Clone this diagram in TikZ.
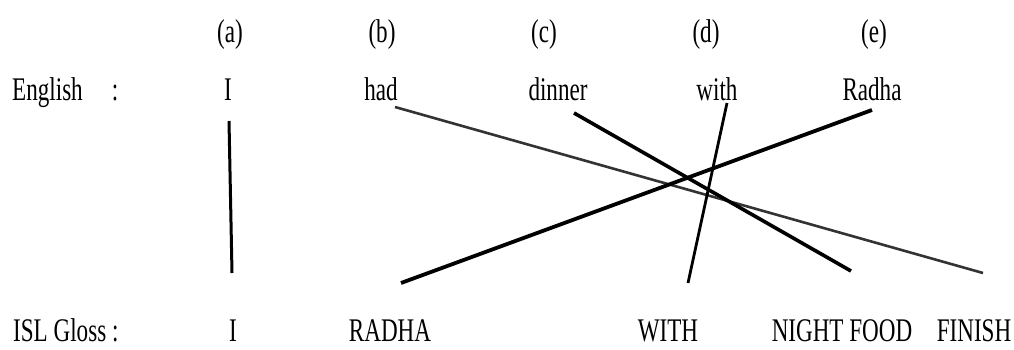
\documentclass[tikz,border=0pt]{standalone}
\usepackage{fontspec}
\setmainfont{Liberation Serif}[FakeStretch=0.7]
\begin{document}
\begin{tikzpicture}[x=1pt,y=-1pt,
  lbl/.style={inner sep=0pt,anchor=base,font=\fontsize{33}{40}\selectfont},
  lblw/.style={lbl,anchor=base west},
  link/.style={line cap=butt,black}]
\useasboundingbox (0,0) rectangle (1014,349);
% column labels
\node[lbl] (la) at (230,42) {(a)};
\node[lbl] (lb) at (382,42) {(b)};
\node[lbl] (lc) at (544,42) {(c)};
\node[lbl] (ld) at (706,42) {(d)};
\node[lbl] (le) at (874,42) {(e)};
% English row
\node[lblw] (eng) at (12,100) {English};
\node[lbl] (engc) at (115,100) {:};
\node[lbl] (eI) at (228,100) {I};
\node[lbl] (ehad) at (381,100) {had};
\node[lbl] (edin) at (558,100) {dinner};
\node[lbl] (ewith) at (717,100) {with};
\node[lbl] (erad) at (872,100) {Radha};
% ISL row
\node[lblw] (isl) at (13,341) {ISL Gloss :};
\node[lbl] (gI) at (233,341) {I};
\node[lbl] (grad) at (390,341) {RADHA};
\node[lbl] (gwith) at (668,341) {WITH};
\node[lbl] (gnf) at (842,341) {NIGHT FOOD};
\node[lbl] (gfin) at (974,341) {FINISH};
% connector end points
\coordinate (cI1) at (229,121);
\coordinate (cI2) at (232,273);
\coordinate (ch1) at (395,107);
\coordinate (ch2) at (983,273);
\coordinate (cd1) at (574,113);
\coordinate (cd2) at (851,271);
\coordinate (cw1) at (727,103);
\coordinate (cw2) at (688,283);
\coordinate (cr1) at (872,110);
\coordinate (cr2) at (401,283);
% connectors
\draw[link,line width=3pt] (cI1) -- (cI2);
\draw[link,line width=2.6pt,black!80] (ch1) -- (ch2);
\draw[link,line width=3.6pt] (cd1) -- (cd2);
\draw[link,line width=2.8pt] (cw1) -- (cw2);
\draw[link,line width=3.8pt] (cr1) -- (cr2);
\end{tikzpicture}
\end{document}
